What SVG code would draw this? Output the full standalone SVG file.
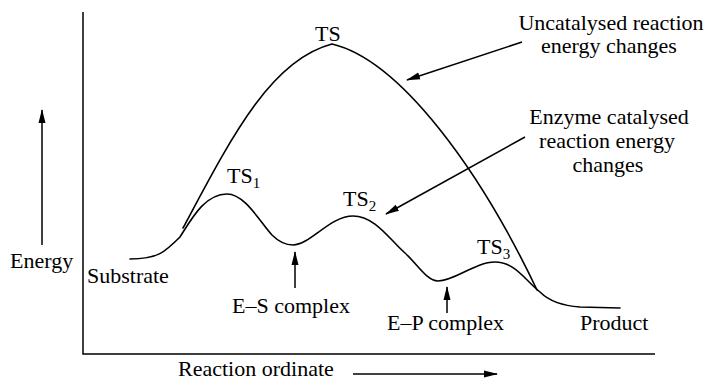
<svg xmlns="http://www.w3.org/2000/svg" width="712" height="380" viewBox="0 0 712 380">
<style>
text{font-family:'Liberation Serif','Tinos','DejaVu Serif',serif;font-size:22px;fill:#000}
.sub{font-size:15px}
.c{fill:none;stroke:#000;stroke-width:1.6;stroke-linejoin:round;stroke-linecap:round}
.ln{fill:none;stroke:#000;stroke-width:1.5}
.ar{fill:none;stroke:#000;stroke-width:1.5;marker-end:url(#ah)}
.m{text-anchor:middle}
</style>
<defs>
<marker id="ah" markerUnits="userSpaceOnUse" markerWidth="14" markerHeight="10" viewBox="0 0 14 10" refX="13" refY="5" orient="auto">
<path d="M0,1.5 L14,5 L0,8.5 Z" fill="#000"/>
</marker>
</defs>
<g id="axes">
<path class="ln" d="M83,12 V354 H655"/>
</g>
<g id="curves">
<path id="uncatalysed" class="c" d="M183,228 C230,140 270,60 332,44 C400,60 480,170 537,290"/>
<path id="catalysed" class="c" d="M130,259 C158,259 165,252 180,237 C192,218 205,194 227,194 C245,194 260,222 272,235 C280,243 286,245 293,245 C310,245 330,216 353,216 C375,216 390,240 405,253 C418,265 427,281 438,281 C455,281 475,262 495,262 C515,262 525,280 540,292 C550,302 565,306 580,307 L620,308"/>
</g>
<g id="connectors">
<line class="ar" x1="42" y1="245" x2="42" y2="110"/>
<line class="ar" x1="522" y1="42" x2="407" y2="80"/>
<line class="ar" x1="525" y1="137" x2="386" y2="214"/>
<line class="ar" x1="295" y1="288" x2="295" y2="252"/>
<line class="ar" x1="447" y1="313" x2="447" y2="287"/>
<line class="ar" x1="353" y1="374" x2="497" y2="374"/>
</g>
<g id="labels" font-family="Liberation Serif, serif">
<text x="10" y="268">Energy</text>
<text x="87" y="283">Substrate</text>
<text x="232" y="313">E–S complex</text>
<text x="387" y="330">E–P complex</text>
<text x="580" y="330">Product</text>
<text x="178" y="376">Reaction ordinate</text>
<text x="315" y="41">TS</text>
<text x="227" y="183">TS<tspan class="sub" dy="5">1</tspan></text>
<text x="343" y="206">TS<tspan class="sub" dy="5">2</tspan></text>
<text x="477" y="254">TS<tspan class="sub" dy="5">3</tspan></text>
<text class="m" x="611" y="30">Uncatalysed reaction</text>
<text class="m" x="609" y="53">energy changes</text>
<text class="m" x="609" y="124">Enzyme catalysed</text>
<text class="m" x="607" y="148">reaction energy</text>
<text class="m" x="608" y="172">changes</text>
</g>
</svg>
